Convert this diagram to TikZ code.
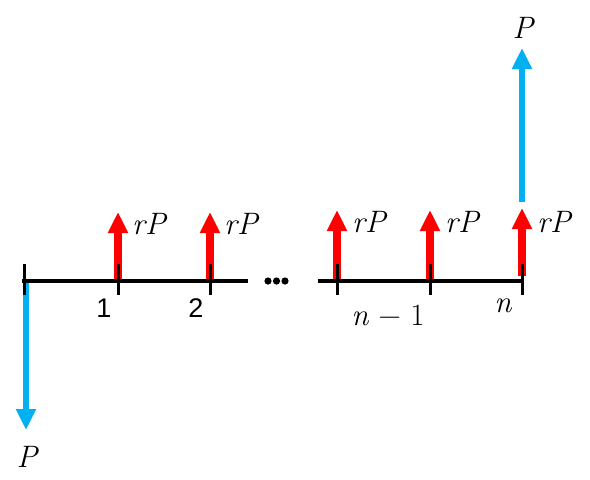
\documentclass[tikz,border=0pt]{standalone}
\usepackage{fontspec}
\setmainfont{Liberation Sans}
\newfontfamily\mfont{Latin Modern Roman}
\usetikzlibrary{arrows.meta}
\definecolor{cfblue}{RGB}{0,176,240}
\definecolor{cfred}{RGB}{255,0,0}
\tikzset{
  redarrow/.style={draw=cfred, line width=7.5pt, -{Triangle[width=19pt,length=21pt]}},
  bluearrow/.style={draw=cfblue, line width=6.5pt, -{Triangle[width=19pt,length=21pt]}},
  axisline/.style={draw=black, line width=4pt},
  tickmark/.style={draw=black, line width=3pt},
  mathlbl/.style={font=\mfont\itshape\fontsize{31}{34}\selectfont, inner sep=0pt},
  uplbl/.style={font=\mfont\fontsize{31}{34}\selectfont, inner sep=0pt},
  numlbl/.style={font=\rmfamily\fontsize{27}{30}\selectfont, inner sep=0pt},
}
\begin{document}
\begin{tikzpicture}[x=1pt,y=-1pt]
\useasboundingbox (0,0) rectangle (590,480);
% coordinates
\foreach \n/\x in {t0/24,t1/118,t2/210,t3/337,t4/430,t5/522}{
  \coordinate (\n) at (\x,281);
  \coordinate (\n top) at (\x,264);
  \coordinate (\n bot) at (\x,295);
}
\coordinate (a1) at (118,212);
\coordinate (a2) at (210,212);
\coordinate (a3) at (337,210);
\coordinate (a4) at (430,210);
\coordinate (a5s) at (522,276);
\coordinate (a5) at (522,208);
\coordinate (bups) at (522,202);
\coordinate (bup) at (522,48);
\coordinate (bdns) at (26,281);
\coordinate (bdn) at (26,430);
% arrows
\draw[redarrow] (t1) -- (a1);
\draw[redarrow] (t2) -- (a2);
\draw[redarrow] (t3) -- (a3);
\draw[redarrow] (t4) -- (a4);
\draw[redarrow] (a5s) -- (a5);
\draw[bluearrow] (bups) -- (bup);
\draw[bluearrow] (bdns) -- (bdn);
% axis
\coordinate (l1a) at (22,281);
\coordinate (l1b) at (248,281);
\coordinate (l2a) at (318,281);
\coordinate (l2b) at (522,281);
\draw[axisline] (l1a) -- (l1b);
\draw[axisline] (l2a) -- (l2b);
\foreach \n in {t0,t1,t2,t3,t4,t5}{
  \draw[tickmark] (\n top) -- (\n bot);
}
\fill[black] (268,281) circle (3.6) (276.5,281) circle (3.6) (285,281) circle (3.6);
% labels
\node[mathlbl, anchor=west] (r1) at (132,224) {rP};
\node[mathlbl, anchor=west] (r2) at (224,224) {rP};
\node[mathlbl, anchor=west] (r3) at (352,222) {rP};
\node[mathlbl, anchor=west] (r4) at (445,222) {rP};
\node[mathlbl, anchor=west] (r5) at (537,222) {rP};
\node[mathlbl] (ptop) at (523,28) {P};
\node[mathlbl] (pbot) at (27,457) {P};
\node[numlbl] (n1) at (104,308) {1};
\node[numlbl] (n2) at (196,308) {2};
\node[uplbl] (nm1) at (388,315) {\textit{n} − 1};
\node[mathlbl] (nn) at (503,306) {n};
\end{tikzpicture}
\end{document}
